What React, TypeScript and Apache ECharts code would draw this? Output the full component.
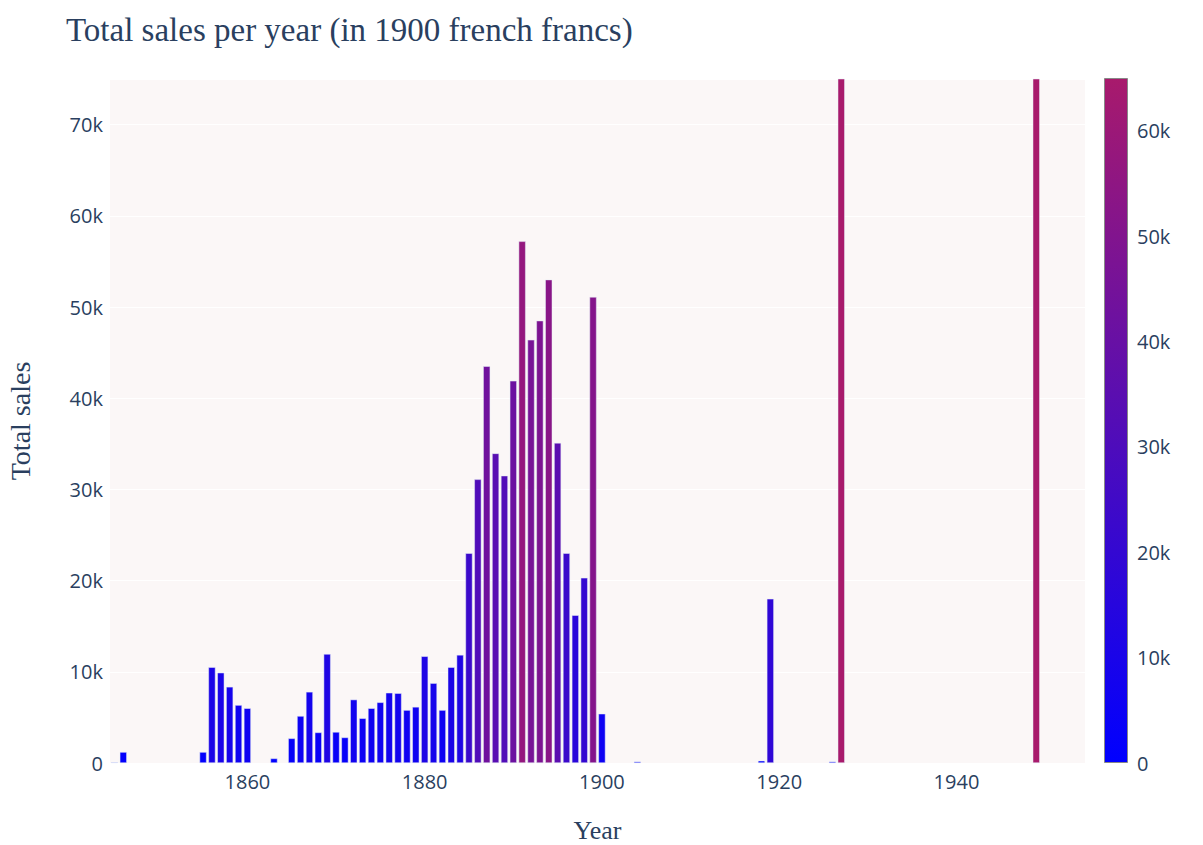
import React, { useEffect, useRef } from "react";
import * as echarts from "echarts";

const years: number[] = [
  1845, 1846, 1855, 1856, 1857, 1858, 1859, 1860, 1863, 1865, 1866, 1867, 1868, 1869,
  1870, 1871, 1872, 1873, 1874, 1875, 1876, 1877, 1878, 1879, 1880, 1881, 1882, 1883,
  1884, 1885, 1886, 1887, 1888, 1889, 1890, 1891, 1892, 1893, 1894, 1895, 1896, 1897,
  1898, 1899, 1900, 1904, 1918, 1919, 1926, 1927, 1949,
];
const totalSales: number[] = [
  80, 1200, 1200, 10500, 9900, 8350, 6350, 6000, 500, 2700, 5150, 7800, 3350, 11950,
  3400, 2800, 6950, 4900, 6000, 6650, 7700, 7650, 5800, 6150, 11700, 8750, 5800, 10500,
  11850, 23000, 31100, 43500, 33950, 31500, 41900, 57200, 46400, 48500, 53000, 35100, 23000, 16200,
  20300, 51100, 5400, 150, 250, 18000, 150, 120000, 100000,
];
const colorScale: string[] = ["#0000ff", "#a81a6c"];
const colorMax = 65000;
const yMax = 75000;
const xMin = 1844.5;
const xMax = 1954.5;

const TEXT = "#2a3f5f";
const TICK_FONT = "'Open Sans', 'Noto Sans', sans-serif";
const SERIF = "'Liberation Serif', 'DejaVu Serif', serif";

const kFmt = (v: number) => (v === 0 ? "0" : `${Math.round(v / 1000)}k`);

export default function App() {
  const ref = useRef<HTMLDivElement>(null);
  useEffect(() => {
    if (!ref.current) return;
    const chart = echarts.init(ref.current, undefined, { renderer: "svg" });
    chart.setOption({
      animation: false,
      backgroundColor: "#ffffff",
      title: {
        text: "Total sales per year (in 1900 french francs)",
        left: 61,
        top: 8,
        textStyle: { fontFamily: SERIF, fontSize: 33, fontWeight: "normal", color: TEXT },
      },
      grid: [
        {
          left: 110,
          top: 79,
          width: 975,
          height: 684,
          show: true,
          backgroundColor: "#fbf7f7",
          borderWidth: 0,
          outerBoundsMode: "none",
          containLabel: false,
        },
        {
          left: 1104,
          top: 78,
          width: 24,
          height: 685,
          outerBoundsMode: "none",
          containLabel: false,
        },
      ],
      visualMap: {
        type: "continuous",
        show: false,
        seriesIndex: 0,
        dimension: 1,
        min: 0,
        max: colorMax,
        inRange: { color: colorScale },
      },
      xAxis: [
        {
          gridIndex: 0,
          type: "value",
          min: xMin,
          max: xMax,
          splitNumber: 5,
          minInterval: 20,
          maxInterval: 20,
          axisLine: { show: false },
          axisTick: { show: false },
          splitLine: { show: false },
          axisLabel: {
            showMinLabel: false,
            showMaxLabel: false,
            margin: 8,
            fontFamily: TICK_FONT,
            fontSize: 20,
            color: TEXT,
            formatter: (v: number) => String(v),
          },
          name: "Year",
          nameLocation: "middle",
          nameGap: 54,
          nameTextStyle: { fontFamily: SERIF, fontSize: 26, lineHeight: 26, color: TEXT },
        },
        {
          gridIndex: 1,
          type: "category",
          data: ["scale"],
          show: false,
        },
      ],
      yAxis: [
        {
          gridIndex: 0,
          type: "value",
          min: 0,
          max: yMax,
          interval: 10000,
          axisLine: { show: false },
          axisTick: { show: false },
          splitLine: { show: true, lineStyle: { color: "#ffffff", width: 1 } },
          axisLabel: {
            showMaxLabel: false,
            margin: 7,
            fontFamily: TICK_FONT,
            fontSize: 20,
            color: TEXT,
            formatter: kFmt,
          },
          name: "Total sales",
          nameLocation: "middle",
          nameGap: 76,
          nameTextStyle: { fontFamily: SERIF, fontSize: 28, color: TEXT },
        },
        {
          gridIndex: 1,
          type: "value",
          position: "right",
          min: 0,
          max: colorMax,
          interval: 10000,
          axisLine: { show: false },
          axisTick: { show: false },
          splitLine: { show: false },
          axisLabel: {
            showMaxLabel: false,
            margin: 9,
            fontFamily: TICK_FONT,
            fontSize: 20,
            color: TEXT,
            formatter: kFmt,
          },
        },
      ],
      series: [
        {
          type: "bar",
          xAxisIndex: 0,
          yAxisIndex: 0,
          barWidth: 7,
          clip: true,
          itemStyle: { borderColor: "#e5ecf6", borderWidth: 0.5 },
          data: years.map((y, i) => [y, totalSales[i]]),
        },
        {
          type: "bar",
          xAxisIndex: 1,
          yAxisIndex: 1,
          barWidth: 24,
          itemStyle: {
            borderColor: "#888",
            borderWidth: 1,
            color: new echarts.graphic.LinearGradient(0, 0, 0, 1, [
              { offset: 0, color: colorScale[1] },
              { offset: 1, color: colorScale[0] },
            ]),
          },
          data: [colorMax],
        },
      ],
    });
    return () => chart.dispose();
  }, []);
  return (
    <div
      ref={ref}
      style={{ position: "absolute", left: 0, top: 0, width: 1203, height: 845 }}
    />
  );
}
